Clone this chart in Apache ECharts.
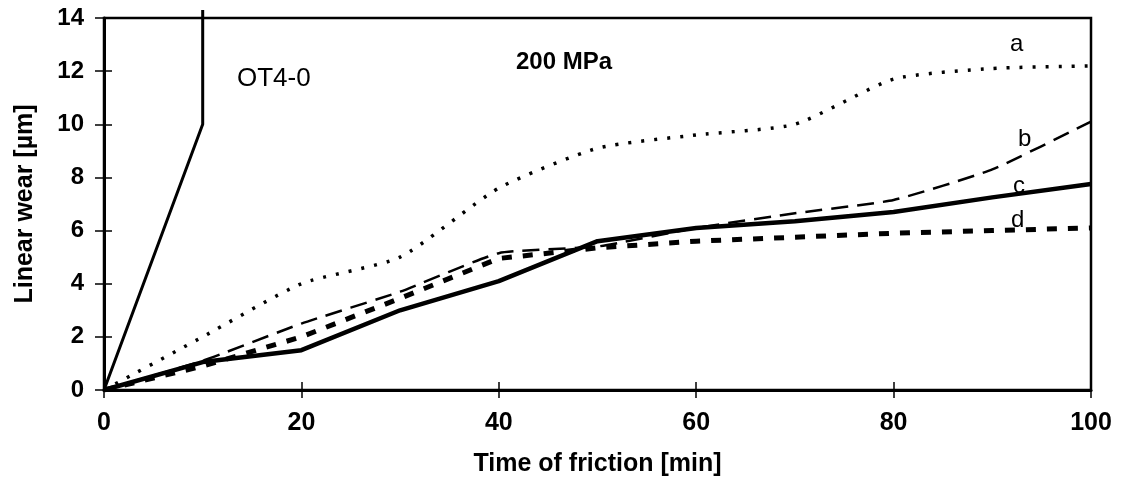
<!DOCTYPE html>
<html>
<head>
<meta charset="utf-8">
<script src="https://cdn.jsdelivr.net/npm/echarts@6/dist/echarts.min.js"></script>
<style>
html,body{margin:0;padding:0;background:#fff;}
#c{width:1123px;height:492px;}
</style>
</head>
<body>
<div id="c"></div>
<script>
// ---- data ----
const timeMin = [0, 10, 20, 30, 40, 50, 60, 70, 80, 90, 100];
const seriesA = [0, 2.0, 4.0, 5.0, 7.6, 9.1, 9.6, 10.0, 11.7, 12.1, 12.2];
const seriesB = [0, 1.1, 2.5, 3.7, 5.15, 5.4, 6.1, 6.65, 7.15, 8.3, 10.1];
const seriesC = [0, 1.05, 1.5, 3.0, 4.1, 5.6, 6.1, 6.35, 6.7, 7.25, 7.75];
const seriesD = [0, 0.9, 2.0, 3.45, 4.95, 5.35, 5.6, 5.75, 5.9, 6.0, 6.1];
const ot40Time = [0, 10, 10];
const ot40Wear = [0, 10, 14.3];
const xTicks = [0, 20, 40, 60, 80, 100];
const yTicks = [0, 2, 4, 6, 8, 10, 12, 14];

const pairs = (xs, ys) => xs.map((x, i) => [x, ys[i]]);
const FONT = '"Liberation Sans", Arial, sans-serif';

const chart = echarts.init(document.getElementById('c'), null, {renderer: 'canvas'});
const grid = {left: 104, right: 32, top: 18, bottom: 102, show: true, borderColor: '#000', borderWidth: 2.5, backgroundColor: 'transparent'};

chart.setOption({
  animation: false,
  backgroundColor: '#fff',
  grid: grid,
  xAxis: [{
    type: 'value', min: 0, max: 100, interval: 20,
    axisLine: {show: true, onZero: false, lineStyle: {color: '#000', width: 3}},
    axisTick: {show: true, length: 8, lineStyle: {color: '#000', width: 1.5}},
    splitLine: {show: false},
    axisLabel: {color: '#000', fontFamily: FONT, fontSize: 25, fontWeight: 'bold', margin: 21},
    name: 'Time of friction [min]', nameLocation: 'middle', nameGap: 62,
    nameTextStyle: {color: '#000', fontFamily: FONT, fontSize: 25, fontWeight: 'bold'}
  }, {
    type: 'value', min: 0, max: 100, interval: 20, position: 'bottom',
    axisLine: {show: false},
    axisTick: {show: true, inside: true, length: 8, lineStyle: {color: '#000', width: 1.5}},
    axisLabel: {show: false}, splitLine: {show: false}
  }],
  yAxis: [{
    type: 'value', min: 0, max: 14, interval: 2,
    axisLine: {show: true, onZero: false, lineStyle: {color: '#000', width: 3}},
    axisTick: {show: true, length: 9, lineStyle: {color: '#000', width: 1.5}},
    splitLine: {show: false},
    axisLabel: {color: '#000', fontFamily: FONT, fontSize: 24, fontWeight: 'bold', margin: 20},
    name: 'Linear wear [µm]', nameLocation: 'middle', nameGap: 66,
    nameTextStyle: {color: '#000', fontFamily: FONT, fontSize: 25, fontWeight: 'bold'}
  }, {
    type: 'value', min: 0, max: 14, interval: 2, position: 'left',
    axisLine: {show: false},
    axisTick: {show: true, inside: true, length: 8, lineStyle: {color: '#000', width: 1.5}},
    axisLabel: {show: false}, splitLine: {show: false}
  }],
  series: [
    {name: 'OT4-0', type: 'line', data: pairs(ot40Time, ot40Wear), symbol: 'none', clip: false,
     lineStyle: {color: '#000', width: 3}},
    {name: 'a', type: 'line', data: pairs(timeMin, seriesA), symbol: 'none', smooth: 0.2,
     lineStyle: {color: '#000', width: 3.5, type: [3, 10], cap: 'butt'}},
    {name: 'b', type: 'line', data: pairs(timeMin, seriesB), symbol: 'none', smooth: 0.15,
     lineStyle: {color: '#000', width: 2.5, type: [17, 9]}},
    {name: 'c', type: 'line', data: pairs(timeMin, seriesC), symbol: 'none',
     lineStyle: {color: '#000', width: 4.5}},
    {name: 'd', type: 'line', data: pairs(timeMin, seriesD), symbol: 'none',
     lineStyle: {color: '#000', width: 5, type: [10, 11]}}
  ],
  graphic: [
    {type: 'text', left: 237, top: 66, style: {text: 'OT4-0', font: '26px ' + FONT, fill: '#000'}},
    {type: 'text', left: 516, top: 50, style: {text: '200 MPa', font: 'bold 24px ' + FONT, fill: '#000'}},
    {type: 'text', left: 1010, top: 32, style: {text: 'a', font: '24px ' + FONT, fill: '#000'}},
    {type: 'text', left: 1018, top: 127, style: {text: 'b', font: '24px ' + FONT, fill: '#000'}},
    {type: 'text', left: 1013, top: 174, style: {text: 'c', font: '24px ' + FONT, fill: '#000'}},
    {type: 'text', left: 1011, top: 208, style: {text: 'd', font: '24px ' + FONT, fill: '#000'}}
  ]
});
</script>
</body>
</html>
